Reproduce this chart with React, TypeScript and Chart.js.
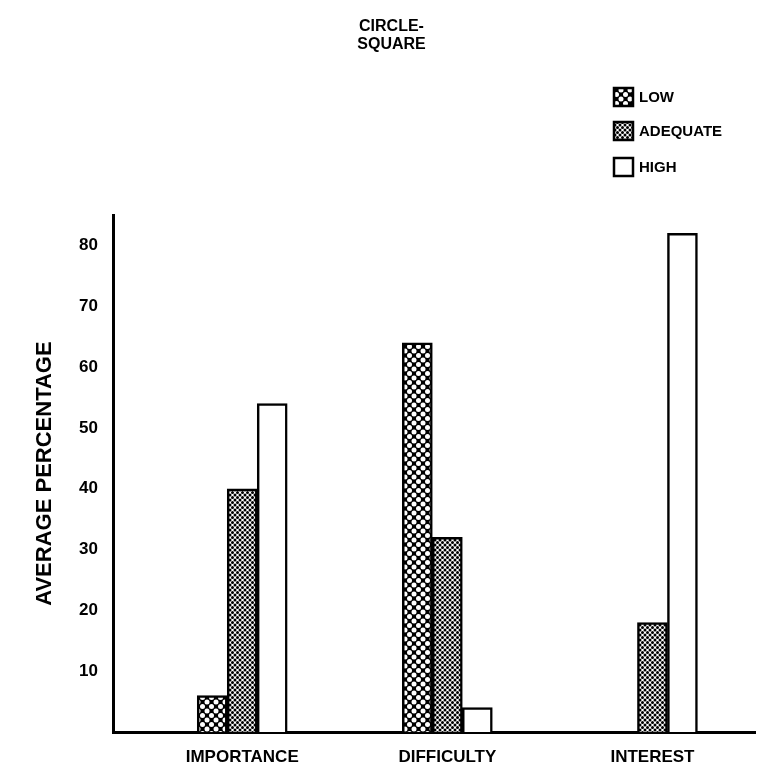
import React, { useEffect, useRef } from 'react';
import { Chart, registerables } from 'chart.js';

Chart.register(...registerables);

const categories = ['IMPORTANCE', 'DIFFICULTY', 'INTEREST'];
const seriesLabels = ['LOW', 'ADEQUATE', 'HIGH'];
const lowValues = [6, 64, 0];
const adequateValues = [40, 32, 18];
const highValues = [54, 4, 82];
const yTickValues = [10, 20, 30, 40, 50, 60, 70, 80];
const titleLines = ['CIRCLE-', 'SQUARE'];
const yAxisTitle = 'AVERAGE PERCENTAGE';

const FONT = '"Liberation Sans", Arial, Helvetica, sans-serif';

function makePattern(kind: 'coarse' | 'fine'): CanvasPattern | string {
  const c = document.createElement('canvas');
  const size = kind === 'coarse' ? 9 : 5;
  c.width = size;
  c.height = size;
  const g = c.getContext('2d');
  if (!g) return '#888';
  const pts = [[0, 0], [size, 0], [0, size], [size, size], [size / 2, size / 2]];
  if (kind === 'coarse') {
    g.fillStyle = '#000';
    g.fillRect(0, 0, size, size);
    g.fillStyle = '#fff';
    for (const [px, py] of pts) {
      g.beginPath();
      g.arc(px, py, 2.5, 0, Math.PI * 2);
      g.fill();
    }
  } else {
    g.fillStyle = '#fff';
    g.fillRect(0, 0, size, size);
    g.fillStyle = '#000';
    for (const [px, py] of pts) {
      g.beginPath();
      g.arc(px, py, 1.5, 0, Math.PI * 2);
      g.fill();
    }
  }
  const p = g.createPattern(c, 'repeat');
  return p || '#888';
}

const sideLegend = {
  id: 'sideLegend',
  afterDraw(chart: any) {
    const ctx = chart.ctx;
    const boxX = 614;
    const boxW = 19;
    const boxH = 18;
    const rowY = [88, 122, 158];
    ctx.save();
    chart.data.datasets.forEach((ds: any, i: number) => {
      const y = rowY[i];
      ctx.fillStyle = ds.backgroundColor;
      ctx.fillRect(boxX, y, boxW, boxH);
      ctx.lineWidth = 2.5;
      ctx.strokeStyle = '#000';
      ctx.strokeRect(boxX, y, boxW, boxH);
      ctx.fillStyle = '#000';
      ctx.font = `bold 15px ${FONT}`;
      ctx.textBaseline = 'middle';
      ctx.textAlign = 'left';
      ctx.fillText(ds.label, boxX + boxW + 6, y + boxH / 2 + 1);
    });
    ctx.restore();
  },
};

export default function App() {
  const ref = useRef<HTMLCanvasElement | null>(null);

  useEffect(() => {
    if (!ref.current) return;
    const lowPat = makePattern('coarse');
    const adqPat = makePattern('fine');
    const fills = [lowPat, adqPat, '#ffffff'];
    const seriesValues = [lowValues, adequateValues, highValues];

    const chart = new Chart(ref.current, {
      type: 'bar',
      data: {
        datasets: seriesLabels.map((label, s) => ({
          label,
          data: seriesValues[s].map((y, i) => ({ x: i, y })),
          backgroundColor: fills[s] as any,
          borderColor: '#000',
          borderWidth: 2.5,
          barThickness: 30,
        })),
      },
      options: {
        animation: false,
        responsive: false,
        devicePixelRatio: 1,
        layout: { padding: { left: 28, right: 2, top: 0, bottom: 0 } },
        plugins: {
          legend: { display: false },
          tooltip: { enabled: false },
          title: {
            display: true,
            text: titleLines,
            color: '#000',
            font: { family: FONT, size: 16, weight: 'bold', lineHeight: 1.1 },
            padding: { top: 18, bottom: 162 },
          },
        },
        scales: {
          x: {
            type: 'linear',
            min: -0.63,
            max: 2.5,
            offset: false,
            grid: { display: false, drawTicks: false },
            border: { display: true, color: '#000', width: 3 },
            afterBuildTicks: (scale: any) => {
              scale.ticks = categories.map((_, i) => ({ value: i }));
            },
            afterFit: (scale: any) => {
              scale.height = 46;
            },
            ticks: {
              autoSkip: false,
              maxRotation: 0,
              padding: 15,
              color: '#000',
              font: { family: FONT, size: 17, weight: 'bold' },
              callback: (v: any) => categories[Number(v)] ?? '',
            },
          },
          y: {
            min: 0,
            max: 85,
            grid: { display: false, drawTicks: false },
            border: { display: true, color: '#000', width: 3 },
            afterBuildTicks: (scale: any) => {
              scale.ticks = yTickValues.map((v) => ({ value: v }));
            },
            afterFit: (scale: any) => {
              scale.width = 85;
            },
            ticks: {
              padding: 15,
              color: '#000',
              font: { family: FONT, size: 17, weight: 'bold' },
            },
            title: {
              display: true,
              text: yAxisTitle,
              color: '#000',
              font: { family: FONT, size: 22, weight: 'bold', lineHeight: 1.2 },
              padding: { top: 4, bottom: 0 },
            },
          },
        },
      },
      plugins: [sideLegend],
    });
    return () => chart.destroy();
  }, []);

  return (
    <div style={{ position: 'absolute', left: 0, top: 0, width: 757, height: 778, background: '#fff' }}>
      <canvas ref={ref} width={757} height={778} style={{ display: 'block', width: 757, height: 778 }} />
    </div>
  );
}
